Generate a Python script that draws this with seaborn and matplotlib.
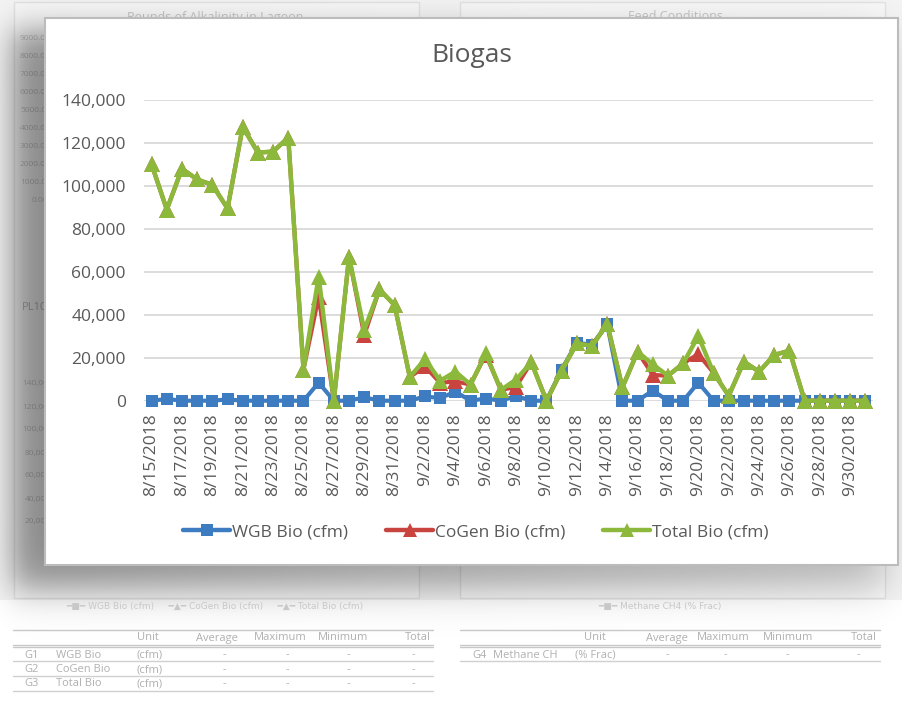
import numpy as np
import pandas as pd
import matplotlib
matplotlib.use("Agg")
import matplotlib.pyplot as plt
from matplotlib.patches import Rectangle
from matplotlib.lines import Line2D
import seaborn as sns

# Data (cfm), one value per day 8/15/2018 - 10/1/2018
dates = pd.date_range("2018-08-15", "2018-10-01", freq="D")

wgb_bio = [0, 800, 0, 0, 0, 600, 0, 0, 0, 0,
           0, 8400, 0, 0, 1600, 0, 0, 0, 2000, 1200,
           4200, 0, 1000, 0, 2200, 0, 0, 14500, 27000, 26000,
           35500, 0, 0, 4700, 0, 0, 8400, 0, 0, 0,
           0, 0, 0, 0, 0, 0, 0, 0]

cogen_bio = [110000, 89000, 108000, 103000, 100500, 89500, 127500, 115500, 116000, 122500,
             14500, 48500, 0, 67000, 30500, 51800, 44500, 11000, 16000, 8300,
             9000, 7500, 21500, 5000, 6500, 17900, 0, 14000, 26700, 25500,
             35700, 6200, 22800, 12000, 11600, 17400, 21700, 13000, 2300, 18200,
             13500, 21300, 23300, 0, 0, 0, 0, 0]

total_bio = [110000, 89000, 108000, 103000, 100500, 89500, 127500, 115500, 116000, 122500,
             14500, 57700, 0, 67000, 32800, 51800, 44500, 11000, 19300, 9300,
             13500, 7500, 22000, 5000, 9800, 17900, 0, 14000, 26700, 25500,
             35700, 6200, 22800, 16900, 11600, 17400, 30100, 13000, 2300, 18200,
             13500, 21300, 23300, 0, 0, 0, 0, 0]

series_names = ["WGB Bio (cfm)", "CoGen Bio (cfm)", "Total Bio (cfm)"]
series_colors = ["#3d7cc1", "#c9443f", "#8cb93b"]
series_markers = ["s", "^", "^"]

df = pd.DataFrame({"date": dates, series_names[0]: wgb_bio,
                   series_names[1]: cogen_bio, series_names[2]: total_bio})

sns.set_theme(style="white")
plt.rcParams["font.family"] = ["Open Sans", "DejaVu Sans"]

W, H = 903, 707
fig = plt.figure(figsize=(W / 100, H / 100), dpi=100, facecolor="white")

# ---- faded background (the sheet behind the chart) ----
bg = fig.add_axes([0, 0, 1, 1])
bg.set_xlim(0, W)
bg.set_ylim(H, 0)
bg.axis("off")
bg.add_patch(Rectangle((0, 0), W, 600, facecolor="#f3f3f3", edgecolor="none", zorder=0))
bg.add_patch(Rectangle((14, 2), 405, 596, facecolor="#f7f7f7", edgecolor="#e2e2e2", lw=1, zorder=1))
bg.add_patch(Rectangle((460, 2), 425, 596, facecolor="#f7f7f7", edgecolor="#e2e2e2", lw=1, zorder=1))

# soft shadow around the chart panel
xx = np.arange(W)
yy = np.arange(H)
sx = 1 / (1 + np.exp(-(xx - 12) / 9)) * 1 / (1 + np.exp((xx - 885) / 12))
sy = 1 / (1 + np.exp(-(yy - 30) / 10)) * 1 / (1 + np.exp((yy - 588) / 11))
fade = 0.75 - 0.35 * (xx / W)
shadow = np.zeros((H, W, 4))
shadow[..., 3] = 0.6 * np.outer(sy, sx * fade)
bg.imshow(shadow, extent=(0, W, H, 0), zorder=2, aspect="auto")

faded = "#c4c4c4"
bg.text(215, 17, "Pounds of Alkalinity in Lagoon", color=faded, fontsize=9, ha="center", va="center", zorder=1.5)
bg.text(675, 17, "Feed Conditions", color=faded, fontsize=9, ha="center", va="center", zorder=1.5)
for k, lab in enumerate(["9000.00", "8000.00", "7000.00", "6000.00", "5000.00",
                         "4000.00", "3000.00", "2000.00", "1000.00", "0.00"]):
    bg.text(20 + (12 if k == 9 else 0), 38 + 18 * k, lab, color=faded, fontsize=6, va="center", zorder=1.5)
for k, lab in enumerate(["140,000", "120,000", "100,000", "80,000", "60,000", "40,000", "20,000"]):
    bg.text(22 + (3 if k >= 3 else 0), 384 + 23 * k, lab, color=faded, fontsize=6, va="center", zorder=1.5)
bg.text(22, 307, "PL10", color="#b5b5b5", fontsize=8, va="center", zorder=1.5)
bg.text(215, 606, "━■━ WGB Bio (cfm)     ━▲━ CoGen Bio (cfm)     ━▲━ Total Bio (cfm)",
        color="#c8c8c8", fontsize=6.5, ha="center", va="center", zorder=3,
        family=["DejaVu Sans"])
bg.text(660, 606, "━■━ Methane CH4 (% Frac)", color="#c8c8c8", fontsize=6.5,
        ha="center", va="center", zorder=3, family=["DejaVu Sans"])

# summary tables under the background charts
tcol = "#b0b0b0"
for x0, x1 in [(13, 433), (460, 880)]:
    for yr in [630, 645, 647]:
        bg.plot([x0, x1], [yr, yr], color="#c8c8c8", lw=1.0, zorder=3)
for yr in [661, 676, 691]:
    bg.plot([13, 433], [yr, yr], color="#d0d0d0", lw=1, zorder=3)
bg.plot([460, 880], [661, 661], color="#d0d0d0", lw=1, zorder=3)
for cols in [[148, 217, 280, 343], [595, 667, 723, 788]]:
    for lab, cx in zip(["Unit", "Average", "Maximum", "Minimum"], cols):
        bg.text(cx, 638, lab, color=tcol, fontsize=8, ha="center", va="center", zorder=3)
bg.text(431, 638, "Total", color=tcol, fontsize=8, ha="right", va="center", zorder=3)
bg.text(877, 638, "Total", color=tcol, fontsize=8, ha="right", va="center", zorder=3)
for k, (g, nm) in enumerate([("G1", "WGB Bio"), ("G2", "CoGen Bio"), ("G3", "Total Bio")]):
    ry = 655 + 14.5 * k
    bg.text(32, ry, g, color=tcol, fontsize=8, ha="center", va="center", zorder=3)
    bg.text(56, ry, nm, color=tcol, fontsize=8, ha="left", va="center", zorder=3)
    bg.text(137, ry, "(cfm)", color=tcol, fontsize=8, ha="left", va="center", zorder=3)
    for cx in [224, 287, 348, 413]:
        bg.text(cx, ry, "-", color=tcol, fontsize=8, ha="center", va="center", zorder=3)
bg.text(480, 655, "G4", color=tcol, fontsize=8, ha="center", va="center", zorder=3)
bg.text(493, 655, "Methane CH", color=tcol, fontsize=8, ha="left", va="center", zorder=3)
bg.text(575, 655, "(% Frac)", color=tcol, fontsize=8, ha="left", va="center", zorder=3)
for cx in [667, 725, 787, 858]:
    bg.text(cx, 655, "-", color=tcol, fontsize=8, ha="center", va="center", zorder=3)

# chart panel
bg.add_patch(Rectangle((45, 18), 853, 547, facecolor="white", edgecolor="#bcbcbc", lw=1.5, zorder=5))

# ---- main chart ----
ax = fig.add_axes([144 / W, 1 - 400.7 / H, (873 - 144) / W, (400.7 - 100) / H])
ax.set_facecolor("none")

for name, col, mk in zip(series_names, series_colors, series_markers):
    ms = 8.5 if mk == "s" else 11
    lw = 3.2 if name.startswith("Total") else 3.0
    sns.lineplot(data=df, x="date", y=name, ax=ax, color=col, marker=mk,
                 markersize=ms, markeredgewidth=0, linewidth=lw, label=name,
                 legend=False, clip_on=False)

ax.set_ylim(0, 140000)
ax.set_xlim(dates[0] - pd.Timedelta(hours=12), dates[-1] + pd.Timedelta(hours=12))
ax.set_yticks(np.arange(0, 140001, 20000))
ax.yaxis.set_major_formatter(matplotlib.ticker.FuncFormatter(lambda v, p: f"{int(v):,}"))
tick_dates = dates[::2][:24]
ax.set_xticks(tick_dates)
ax.set_xticklabels([f"{d.month}/{d.day}/{d.year}" for d in tick_dates], rotation=90)

ax.grid(axis="y", color="#d9d9d9", lw=1.3)
ax.grid(axis="x", visible=False)
for s in ax.spines.values():
    s.set_visible(False)
ax.tick_params(axis="y", length=0, pad=13, labelsize=12.5, labelcolor="#595959")
ax.tick_params(axis="x", length=0, pad=9, labelsize=12.5, labelcolor="#595959")
ax.set_xlabel("")
ax.set_ylabel("")

fig.text(472 / W, 1 - 55 / H, "Biogas", fontsize=19, color="#595959", ha="center", va="center")

handles = [Line2D([0], [0], color=c, lw=3.2, marker=m, markersize=8.5 if m == "s" else 10,
                  markeredgewidth=0) for c, m in zip(series_colors, series_markers)]
fig.legend(handles, series_names, loc="center", bbox_to_anchor=(476 / W, 1 - 532 / H),
           ncol=3, frameon=False, fontsize=12.5, labelcolor="#595959",
           handlelength=2.7, handletextpad=0.1, columnspacing=2.2)

fig.savefig("out.png", dpi=100, facecolor=fig.get_facecolor())
